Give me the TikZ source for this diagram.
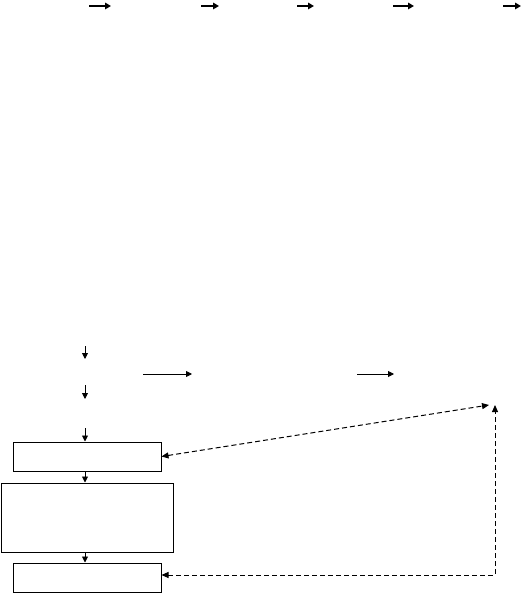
\documentclass[tikz,border=0pt]{standalone}
\usetikzlibrary{arrows.meta,positioning}

\begin{document}
\begin{tikzpicture}[
  x=1pt, y=-1pt,
  box/.style={draw=black, line width=1pt, minimum width=148pt,
              minimum height=29pt, inner sep=0pt},
  bigbox/.style={draw=black, line width=1pt, minimum width=172pt,
                 minimum height=69pt, inner sep=0pt},
  flow/.style={-{Triangle[length=6pt,width=6.5pt]}, line width=1.8pt},
  link/.style={-{Triangle[length=6pt,width=6pt]}, line width=0.9pt},
  fb/.style={{Triangle[length=7pt,width=6pt]}-{Triangle[length=7pt,width=6pt]},
             line width=1pt, dash pattern=on 5pt off 3pt}
]
\useasboundingbox (0,0) rectangle (527,593);

% ---- top row of arrows
\coordinate (t1a) at (89,6);   \coordinate (t1b) at (111,6);
\coordinate (t2a) at (201,6);  \coordinate (t2b) at (219,6);
\coordinate (t3a) at (297,6);  \coordinate (t3b) at (314,6);
\coordinate (t4a) at (393,6);  \coordinate (t4b) at (414,6);
\coordinate (t5a) at (503,6);  \coordinate (t5b) at (521,6);
\draw[flow] (t1a) -- (t1b);
\draw[flow] (t2a) -- (t2b);
\draw[flow] (t3a) -- (t3b);
\draw[flow] (t4a) -- (t4b);
\draw[flow] (t5a) -- (t5b);

% ---- middle arrows
\coordinate (d1a) at (85,346);  \coordinate (d1b) at (85,359);
\coordinate (h1a) at (143,374); \coordinate (h1b) at (192,374);
\coordinate (h2a) at (357,374); \coordinate (h2b) at (394,374);
\coordinate (d2a) at (85,385);  \coordinate (d2b) at (85,399);
\coordinate (d3a) at (85,428);
\draw[link] (d1a) -- (d1b);
\draw[link] (h1a) -- (h1b);
\draw[link] (h2a) -- (h2b);
\draw[link] (d2a) -- (d2b);

% ---- boxes
\node[box]    (b1) at (87,456.5) {};
\node[bigbox] (b2) at (87,517.5) {};
\node[box]    (b3) at (87,577.5) {};
\draw[link] (d3a) -- (d3a |- b1.north);
\draw[link] (d3a |- b1.south) -- (d3a |- b2.north);
\draw[link] (d3a |- b2.south) -- (d3a |- b3.north);

% ---- dashed feedback
\coordinate (fbtop) at (489,405);
\coordinate (fbup) at (495,405);
\coordinate (fbcorner) at (495,575);
\draw[fb] (b1.east) -- (fbtop);
\draw[fb] (b3.east |- fbcorner) -- (fbcorner) -- (fbup);
\end{tikzpicture}
\end{document}
